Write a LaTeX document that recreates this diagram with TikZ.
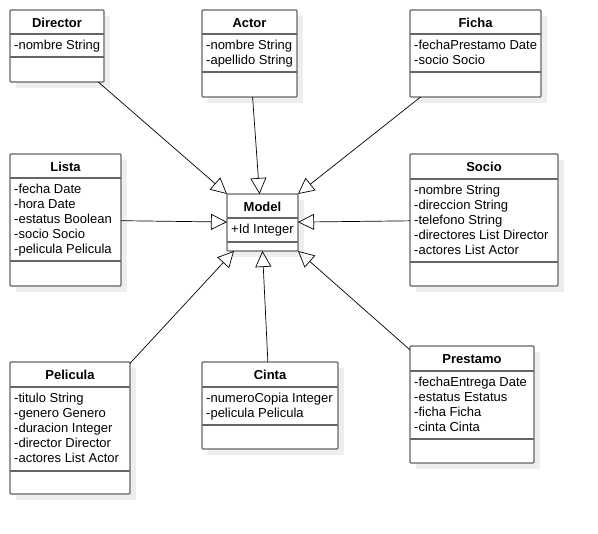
\documentclass[tikz,border=0pt]{standalone}
\usepackage{fontspec}
\setmainfont{Liberation Sans}
\usetikzlibrary{arrows.meta,calc}
\definecolor{boxborder}{HTML}{666666}
\definecolor{shadowc}{HTML}{EEEEEE}
\tikzset{
  classbox/.style={draw=boxborder, line width=1.3pt, fill=white, rounded corners=1pt, inner sep=0pt, outer sep=0pt},
  classsep/.style={draw=boxborder, line width=1.3pt},
  classshadow/.style={fill=shadowc},
  titletext/.style={font=\fontsize{13}{15}\selectfont\bfseries, anchor=base, inner sep=0pt},
  attrtext/.style={font=\fontsize{13}{15}\selectfont, anchor=base west, inner sep=0pt},
  gen/.style={draw=black, line width=0.7pt, -{Triangle[open, length=16pt, width=16pt]}}
}
% #1 id, #2 xleft, #3 ytop, #4 xright, #5 ybottom, #6 yheader, #7 ysep, #8 title, #9 attrs
\newcommand{\umlclass}[9]{%
  \fill[classshadow] (#2+6,#3+6) rectangle (#4+6,#5+6);
  \node[classbox, anchor=north west, minimum width={(#4)-(#2)}, minimum height={(#5)-(#3)}] (#1) at (#2,#3) {};
  \draw[classsep] (#2,#6) -- (#4,#6);
  \draw[classsep] (#2,#7) -- (#4,#7);
  \node[titletext] at ({((#2)+(#4))/2}, #3+18) {#8};
  \foreach \t [count=\i from 0] in {#9} {
    \node[attrtext] at (#2+4, #6+16+15*\i) {\t};
  }
}
\begin{document}
\begin{tikzpicture}[x=1pt,y=-1pt]
\useasboundingbox (0,0) rectangle (598,534);
\umlclass{director}{10}{10}{104}{82}{34}{57}{Director}{-nombre String}
\umlclass{actor}{202}{10}{297}{97}{34}{72}{Actor}{-nombre String,-apellido String}
\umlclass{ficha}{410}{10}{541}{97}{34}{72}{Ficha}{-fechaPrestamo Date,-socio Socio}
\umlclass{lista}{10}{154}{121}{286}{178}{261}{Lista}{-fecha Date,-hora Date,-estatus Boolean,-socio Socio,-pelicula Pelicula}
\umlclass{model}{227}{194}{298}{251}{218}{242}{Model}{+Id Integer}
\umlclass{socio}{410}{154}{558}{286}{179}{262}{Socio}{-nombre String,-direccion String,-telefono String,-directores List Director,-actores List Actor}
\umlclass{pelicula}{10}{362}{130}{494}{387}{471}{Pelicula}{-titulo String,-genero Genero,-duracion Integer,-director Director,-actores List Actor}
\umlclass{cinta}{202}{362}{338}{449}{387}{425}{Cinta}{-numeroCopia Integer,-pelicula Pelicula}
\umlclass{prestamo}{410}{346}{534}{463}{371}{439}{Prestamo}{-fechaEntrega Date,-estatus Estatus,-ficha Ficha,-cinta Cinta}
\draw[gen] (director) -- (model.north west);
\draw[gen] (actor) -- ($(model.north)+(-3,0)$);
\draw[gen] (ficha) -- (model.north east);
\draw[gen] (lista) -- (model);
\draw[gen] (socio) -- (model);
\draw[gen] (pelicula) -- ($(model.south west)+(7,0)$);
\draw[gen] (cinta) -- (model.south);
\draw[gen] (prestamo) -- (model.south east);
\end{tikzpicture}
\end{document}
